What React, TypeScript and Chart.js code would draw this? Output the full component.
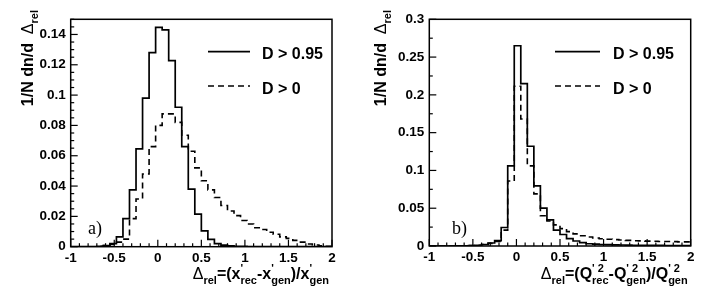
import React, { useEffect, useRef } from "react";
import { Chart, registerables } from "chart.js";

Chart.register(...registerables);

// ---------- data ----------
const X_MIN = -1;
const X_MAX = 2;
const N_BINS = 40;
const X_TICKS = [-1, -0.5, 0, 0.5, 1, 1.5, 2];
const A_Y_TICKS = [0, 0.02, 0.04, 0.06, 0.08, 0.1, 0.12, 0.14];
const B_Y_TICKS = [0, 0.05, 0.1, 0.15, 0.2, 0.25, 0.3];
const SERIES_LABELS = ["D > 0.95", "D > 0"];

// panel a) : x' resolution, 40 bins on [-1, 2]
const A_SOLID = [
  0, 0, 0, 0, 0.0003, 0.0008, 0.002, 0.0065, 0.0185, 0.0375,
  0.0645, 0.098, 0.128, 0.1447, 0.143, 0.1228, 0.092, 0.066, 0.038, 0.0215,
  0.0105, 0.0048, 0.002, 0.001, 0.0005, 0.0003, 0.0002, 0.0001, 0.0001, 0.0001,
  0, 0, 0, 0, 0, 0, 0, 0, 0, 0,
];
const A_DASHED = [
  0, 0, 0, 0, 0.0002, 0.0008, 0.0015, 0.003, 0.005, 0.0185,
  0.0315, 0.048, 0.066, 0.08, 0.0876, 0.0876, 0.082, 0.0735, 0.063, 0.052,
  0.0435, 0.0375, 0.0325, 0.0272, 0.0235, 0.0205, 0.0173, 0.015, 0.0125, 0.0113,
  0.0095, 0.0082, 0.0065, 0.0055, 0.0042, 0.003, 0.0018, 0.0011, 0.0006, 0.0003,
];
// panel b) : Q'^2 resolution
const B_SOLID = [
  0, 0, 0, 0, 0.0001, 0.0003, 0.0005, 0.001, 0.002, 0.004,
  0.0072, 0.0245, 0.106, 0.265, 0.215, 0.132, 0.0796, 0.05, 0.0345, 0.021,
  0.0152, 0.0098, 0.0066, 0.0045, 0.003, 0.0025, 0.002, 0.0018, 0.0015, 0.0013,
  0.0012, 0.001, 0.0008, 0.0008, 0.0007, 0.0007, 0.0006, 0.0006, 0.0005, 0.0005,
];
const B_DASHED = [
  0, 0, 0, 0, 0.0001, 0.0003, 0.0006, 0.001, 0.002, 0.0035,
  0.006, 0.021, 0.086, 0.2115, 0.168, 0.106, 0.069, 0.04, 0.033, 0.028,
  0.023, 0.019, 0.016, 0.0135, 0.012, 0.0105, 0.0095, 0.009, 0.0085, 0.008,
  0.0075, 0.007, 0.0068, 0.0065, 0.0063, 0.006, 0.006, 0.0058, 0.0055, 0.0055,
];

// ---------- helpers ----------
type Seg = { t?: string; greek?: boolean; sub?: string; sup?: string };

const FAMILY = '"Liberation Sans", Arial, Helvetica, sans-serif';
const MAIN_FONT = `bold 16px ${FAMILY}`;
const GREEK_FONT = `16px ${FAMILY}`;
const SUB_FONT = `bold 11px ${FAMILY}`;
const DASH = [6, 4];

function histPoints(values: number[]) {
  const w = (X_MAX - X_MIN) / N_BINS;
  const pts: { x: number; y: number }[] = [{ x: X_MIN, y: 0 }];
  values.forEach((v, i) => pts.push({ x: X_MIN + i * w, y: v }));
  pts.push({ x: X_MAX, y: values[values.length - 1] });
  pts.push({ x: X_MAX, y: 0 });
  return pts;
}

function segWidth(ctx: CanvasRenderingContext2D, s: Seg) {
  if (s.t !== undefined) {
    ctx.font = s.greek ? GREEK_FONT : MAIN_FONT;
    return ctx.measureText(s.t).width;
  }
  ctx.font = SUB_FONT;
  return Math.max(s.sub ? ctx.measureText(s.sub).width : 0, s.sup ? ctx.measureText(s.sup).width : 0);
}

function drawSegs(ctx: CanvasRenderingContext2D, segs: Seg[], x: number, y: number) {
  ctx.textBaseline = "alphabetic";
  ctx.textAlign = "left";
  let cx = x;
  for (const s of segs) {
    const w = segWidth(ctx, s);
    if (s.t !== undefined) {
      ctx.font = s.greek ? GREEK_FONT : MAIN_FONT;
      ctx.fillText(s.t, cx, y);
    } else {
      ctx.font = SUB_FONT;
      if (s.sub) ctx.fillText(s.sub, cx, y + 5);
      if (s.sup) ctx.fillText(s.sup, cx, y - 7);
    }
    cx += w;
  }
}

function totalWidth(ctx: CanvasRenderingContext2D, segs: Seg[]) {
  return segs.reduce((a, s) => a + segWidth(ctx, s), 0);
}

const fmt = (v: number) => String(Math.round(v * 1000) / 1000);

type PanelCfg = {
  left: number;
  right: number;
  top: number;
  bottom: number;
  yMax: number;
  yTicks: number[];
  yMinor: number;
  solid: number[];
  dashed: number[];
  legendX0: number;
  legendX1: number;
  legendTextX: number;
  tag: string;
  tagX: number;
  xTitle: Seg[];
};

const W = 353;
const H = 302;

const Y_TITLE: Seg[] = [{ t: "1/N dn/d  " }, { t: "Δ", greek: true }, { sub: "rel" }];

const PANEL_A: PanelCfg = {
  left: 70.7,
  right: 332,
  top: 19.3,
  bottom: 246.7,
  yMax: 0.15,
  yTicks: A_Y_TICKS,
  yMinor: 0.005,
  solid: A_SOLID,
  dashed: A_DASHED,
  legendX0: 208,
  legendX1: 250,
  legendTextX: 262,
  tag: "a)",
  tagX: 88,
  xTitle: [
    { t: "Δ", greek: true },
    { sub: "rel" },
    { t: "=(x" },
    { sup: "'", sub: "rec" },
    { t: "-x" },
    { sup: "'", sub: "gen" },
    { t: ")/x" },
    { sup: "'", sub: "gen" },
  ],
};

const PANEL_B: PanelCfg = {
  left: 76.3,
  right: 337.7,
  top: 19.3,
  bottom: 246,
  yMax: 0.3,
  yTicks: B_Y_TICKS,
  yMinor: 0.025,
  solid: B_SOLID,
  dashed: B_DASHED,
  legendX0: 202,
  legendX1: 247,
  legendTextX: 260,
  tag: "b)",
  tagX: 99,
  xTitle: [
    { t: "Δ", greek: true },
    { sub: "rel" },
    { t: "=(Q" },
    { sup: "' 2", sub: "rec" },
    { t: "-Q" },
    { sup: "' 2", sub: "gen" },
    { t: ")/Q" },
    { sup: "' 2", sub: "gen" },
  ],
};

function Panel({ cfg, offset }: { cfg: PanelCfg; offset: number }) {
  const ref = useRef<HTMLCanvasElement | null>(null);
  useEffect(() => {
    if (!ref.current) return;
    const overlay = {
      id: "rootStyle",
      afterDraw(chart: any) {
        const ctx: CanvasRenderingContext2D = chart.ctx;
        const a = chart.chartArea;
        const xs = chart.scales.x;
        const ys = chart.scales.y;
        ctx.save();
        ctx.strokeStyle = "#000";
        ctx.fillStyle = "#000";
        // frame
        ctx.lineWidth = 1.5;
        ctx.strokeRect(a.left, a.top, a.right - a.left, a.bottom - a.top);
        // x ticks (inward)
        ctx.lineWidth = 1.2;
        const nx = Math.round((X_MAX - X_MIN) / 0.1);
        for (let i = 0; i <= nx; i++) {
          const v = X_MIN + i * 0.1;
          const major = i % 5 === 0;
          const px = xs.getPixelForValue(v);
          ctx.beginPath();
          ctx.moveTo(px, a.bottom);
          ctx.lineTo(px, a.bottom - (major ? 7 : 3.5));
          ctx.stroke();
        }
        // y ticks (inward)
        const ny = Math.round(cfg.yMax / cfg.yMinor);
        for (let i = 0; i <= ny; i++) {
          const v = i * cfg.yMinor;
          const major = cfg.yTicks.some((t) => Math.abs(t - v) < 1e-9);
          const py = ys.getPixelForValue(v);
          ctx.beginPath();
          ctx.moveTo(a.left, py);
          ctx.lineTo(a.left + (major ? 7 : 3.5), py);
          ctx.stroke();
        }
        // legend
        ctx.lineWidth = 1.7;
        ctx.beginPath();
        ctx.moveTo(cfg.legendX0, 51.7);
        ctx.lineTo(cfg.legendX1, 51.7);
        ctx.stroke();
        ctx.setLineDash(DASH);
        ctx.beginPath();
        ctx.moveTo(cfg.legendX0, 86);
        ctx.lineTo(cfg.legendX1, 86);
        ctx.stroke();
        ctx.setLineDash([]);
        ctx.font = MAIN_FONT;
        ctx.textBaseline = "alphabetic";
        ctx.textAlign = "left";
        ctx.fillText(SERIES_LABELS[0], cfg.legendTextX, 59.3);
        ctx.fillText(SERIES_LABELS[1], cfg.legendTextX, 94);
        // panel tag
        ctx.font = `18px "Liberation Serif", "Times New Roman", serif`;
        ctx.fillText(cfg.tag, cfg.tagX, 234);
        // x title (right aligned)
        const wx = totalWidth(ctx, cfg.xTitle);
        drawSegs(ctx, cfg.xTitle, a.right - 3 - wx, 279);
        // y title (rotated, right aligned to top)
        const wy = totalWidth(ctx, Y_TITLE);
        ctx.save();
        ctx.translate(33, 10);
        ctx.rotate(-Math.PI / 2);
        drawSegs(ctx, Y_TITLE, -wy, 0);
        ctx.restore();
        ctx.restore();
      },
    };
    const tickFont = { family: "Liberation Sans", size: 13.5, weight: "bold" as const };
    const chart = new Chart(ref.current, {
      type: "line",
      data: {
        datasets: [
          {
            label: SERIES_LABELS[1],
            data: histPoints(cfg.dashed),
            stepped: true,
            borderColor: "#000",
            borderWidth: 1.6,
            borderDash: DASH,
            pointRadius: 0,
            fill: false,
          },
          {
            label: SERIES_LABELS[0],
            data: histPoints(cfg.solid),
            stepped: true,
            borderColor: "#000",
            borderWidth: 1.7,
            pointRadius: 0,
            fill: false,
          },
        ],
      },
      options: {
        animation: false,
        responsive: false,
        maintainAspectRatio: false,
        devicePixelRatio: 1,
        parsing: false,
        normalized: true,
        layout: { padding: { left: 0, top: cfg.top, right: W - cfg.right, bottom: 0 } },
        plugins: { legend: { display: false }, tooltip: { enabled: false } },
        scales: {
          x: {
            type: "linear",
            min: X_MIN,
            max: X_MAX,
            grid: { display: false, drawTicks: false },
            border: { display: false },
            afterBuildTicks: (s: any) => {
              s.ticks = X_TICKS.map((v) => ({ value: v }));
            },
            afterFit: (s: any) => {
              s.height = H - cfg.bottom;
            },
            ticks: {
              font: tickFont,
              color: "#000",
              padding: 3,
              maxRotation: 0,
              autoSkip: false,
              callback: (v: any) => fmt(Number(v)),
            },
          },
          y: {
            type: "linear",
            min: 0,
            max: cfg.yMax,
            grid: { display: false, drawTicks: false },
            border: { display: false },
            afterBuildTicks: (s: any) => {
              s.ticks = cfg.yTicks.map((v) => ({ value: v }));
            },
            afterFit: (s: any) => {
              s.width = cfg.left;
            },
            ticks: {
              font: tickFont,
              color: "#000",
              padding: 5,
              autoSkip: false,
              callback: (v: any) => fmt(Number(v)),
            },
          },
        },
      },
      plugins: [overlay],
    } as any);
    return () => chart.destroy();
  }, [cfg]);
  return (
    <canvas
      ref={ref}
      width={W}
      height={H}
      style={{ position: "absolute", left: offset, top: 0, width: W, height: H }}
    />
  );
}

export default function App() {
  return (
    <div style={{ position: "absolute", left: 0, top: 0, width: 706, height: 302, background: "#fff" }}>
      <Panel cfg={PANEL_A} offset={0} />
      <Panel cfg={PANEL_B} offset={353} />
    </div>
  );
}
